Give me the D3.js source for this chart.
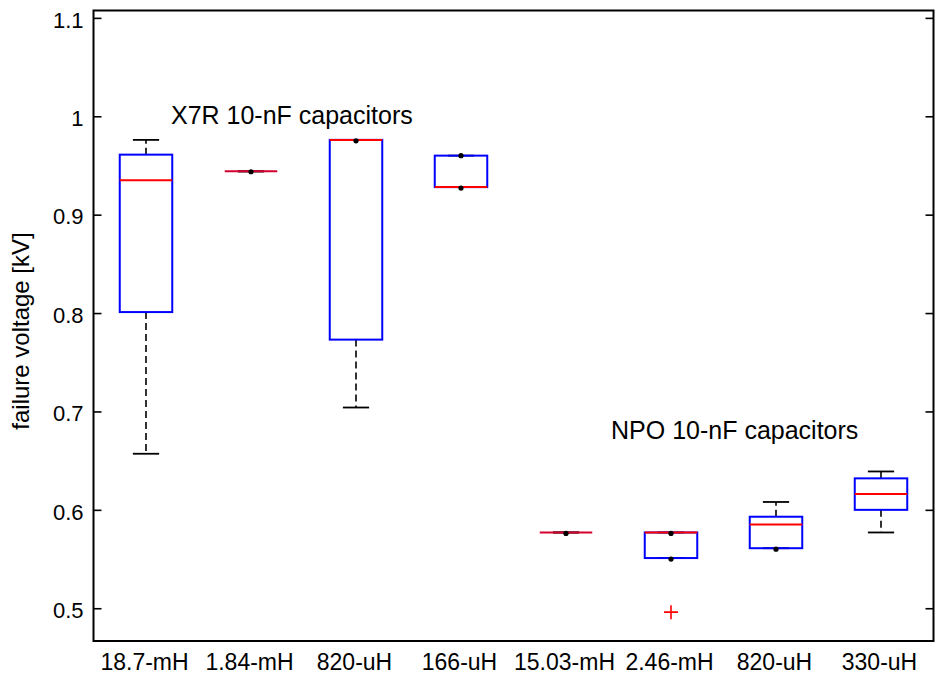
<!DOCTYPE html>
<html>
<head>
<meta charset="utf-8">
<script src="https://cdn.jsdelivr.net/npm/d3@7"></script>
<style>
  html, body { margin: 0; padding: 0; background: #fff; }
  svg { display: block; font-family: "Liberation Sans", Arial, Helvetica, sans-serif; }
</style>
</head>
<body>
<svg id="chart" width="935" height="675"></svg>
<script>
// Inductor labels for each group of capacitors
const categories = ["18.7-mH", "1.84-mH", "820-uH", "166-uH", "15.03-mH", "2.46-mH", "820-uH", "330-uH"];

// Box-plot statistics of failure voltage [kV]
const lowerWhisker = [0.657, 0.944, 0.704, 0.928, 0.577, 0.551, 0.561, 0.577];
const quartile1    = [0.801, 0.944, 0.773, 0.928, 0.577, 0.551, 0.561, 0.600];
const medians      = [0.935, 0.944, 0.976, 0.928, 0.577, 0.577, 0.585, 0.616];
const quartile3    = [0.961, 0.944, 0.976, 0.960, 0.577, 0.577, 0.593, 0.632];
const upperWhisker = [0.976, 0.944, 0.976, 0.960, 0.577, 0.577, 0.608, 0.639];

// Individual measurements marked with dots, and outliers
const dotGroup  = [2, 3, 4, 4, 5, 6, 6, 7];
const dotValue  = [0.9436, 0.975, 0.960, 0.927, 0.576, 0.576, 0.550, 0.560];
const outlierGroup = [6];
const outlierValue = [0.496];

const yTicks = [0.5, 0.6, 0.7, 0.8, 0.9, 1.0, 1.1];

const annotations = [
  { text: "X7R 10-nF capacitors", group: 1.238, value: 0.9922 },
  { text: "NPO 10-nF capacitors", group: 5.429, value: 0.672 }
];

const svg = d3.select("#chart");
const mLeft = 93.5, mRight = 933.5, mTop = 10.5, mBottom = 641;

const x = d3.scaleLinear().domain([0.5, categories.length + 0.5]).range([mLeft, mRight]);
const y = d3.scaleLinear().domain([0.4667, 1.1075]).range([mBottom, mTop]);

const boxHalf = 0.25, capHalf = 0.125;
const groups = d3.range(categories.length);

// Axes (ticks point inward, box closed on all sides)
const yFmt = d => d3.format("~g")(d);
svg.append("g")
  .attr("transform", `translate(${mLeft},0)`)
  .call(d3.axisLeft(y).tickValues(yTicks).tickSize(-8).tickPadding(10).tickFormat(yFmt))
  .call(g => g.select(".domain").remove())
  .call(g => g.selectAll("line").attr("stroke", "#000").attr("stroke-width", 1.6))
  .call(g => g.selectAll("text").attr("font-size", 22).attr("fill", "#000")
    .attr("font-family", "Liberation Sans, Arial, sans-serif").attr("dy", "0.42em"));

svg.append("g")
  .attr("transform", `translate(${mRight},0)`)
  .call(d3.axisRight(y).tickValues(yTicks).tickSize(-8).tickFormat(""))
  .call(g => g.select(".domain").remove())
  .call(g => g.selectAll("line").attr("stroke", "#000").attr("stroke-width", 1.6));

svg.append("g")
  .attr("transform", `translate(-2,${mBottom})`)
  .call(d3.axisBottom(x).tickValues(groups.map(i => i + 1)).tickSize(0).tickPadding(13)
    .tickFormat((d, i) => categories[i]))
  .call(g => g.select(".domain").remove())
  .call(g => g.selectAll("text").attr("font-size", 23).attr("fill", "#000")
    .attr("font-family", "Liberation Sans, Arial, sans-serif"));

svg.append("rect")
  .attr("x", mLeft).attr("y", mTop)
  .attr("width", mRight - mLeft).attr("height", mBottom - mTop)
  .attr("fill", "none").attr("stroke", "#000").attr("stroke-width", 2);

const plot = svg.append("g");

// Whiskers (dashed) from box edges to extremes
plot.selectAll(".whisker-up").data(groups).join("line")
  .attr("x1", i => x(i + 1)).attr("x2", i => x(i + 1))
  .attr("y1", i => y(quartile3[i])).attr("y2", i => y(upperWhisker[i]))
  .attr("stroke", "#000").attr("stroke-width", 1.6).attr("stroke-dasharray", "7,4");
plot.selectAll(".whisker-down").data(groups).join("line")
  .attr("x1", i => x(i + 1)).attr("x2", i => x(i + 1))
  .attr("y1", i => y(quartile1[i])).attr("y2", i => y(lowerWhisker[i]))
  .attr("stroke", "#000").attr("stroke-width", 1.6).attr("stroke-dasharray", "7,4");

// Whisker caps
[upperWhisker, lowerWhisker].forEach(arr => {
  plot.append("g").selectAll("line").data(groups).join("line")
    .attr("x1", i => x(i + 1 - capHalf)).attr("x2", i => x(i + 1 + capHalf))
    .attr("y1", i => y(arr[i])).attr("y2", i => y(arr[i]))
    .attr("stroke", "#000").attr("stroke-width", 1.8);
});

// Interquartile boxes
plot.selectAll(".box").data(groups).join("rect")
  .attr("x", i => x(i + 1 - boxHalf))
  .attr("width", i => x(i + 1 + boxHalf) - x(i + 1 - boxHalf))
  .attr("y", i => y(quartile3[i]))
  .attr("height", i => y(quartile1[i]) - y(quartile3[i]))
  .attr("fill", "none").attr("stroke", "#0000ff").attr("stroke-width", 2);

// Medians
plot.selectAll(".median").data(groups).join("line")
  .attr("x1", i => x(i + 1 - boxHalf)).attr("x2", i => x(i + 1 + boxHalf))
  .attr("y1", i => y(medians[i])).attr("y2", i => y(medians[i]))
  .attr("stroke", i => quartile1[i] === quartile3[i] ? "#d4002e" : "#ff0000")
  .attr("stroke-width", 2);

// Measurement dots
plot.selectAll(".dot").data(dotGroup.map((g, k) => ({ g, v: dotValue[k] }))).join("circle")
  .attr("cx", d => x(d.g)).attr("cy", d => y(d.v)).attr("r", 2.6).attr("fill", "#000");

// Outliers
const plus = 7;
outlierGroup.forEach((g, k) => {
  const cx = x(g), cy = y(outlierValue[k]);
  plot.append("path")
    .attr("d", `M${cx - plus},${cy}H${cx + plus}M${cx},${cy - plus}V${cy + plus}`)
    .attr("stroke", "#ff0000").attr("stroke-width", 1.6).attr("fill", "none");
});

// Group annotations
svg.selectAll(".note").data(annotations).join("text")
  .attr("x", d => x(d.group)).attr("y", d => y(d.value))
  .attr("font-size", 25).attr("fill", "#000")
  .text(d => d.text);

// Y-axis title
svg.append("text")
  .attr("transform", `translate(29,331) rotate(-90)`)
  .attr("text-anchor", "middle").attr("font-size", 24).attr("fill", "#000")
  .text("failure voltage [kV]");
</script>
</body>
</html>
